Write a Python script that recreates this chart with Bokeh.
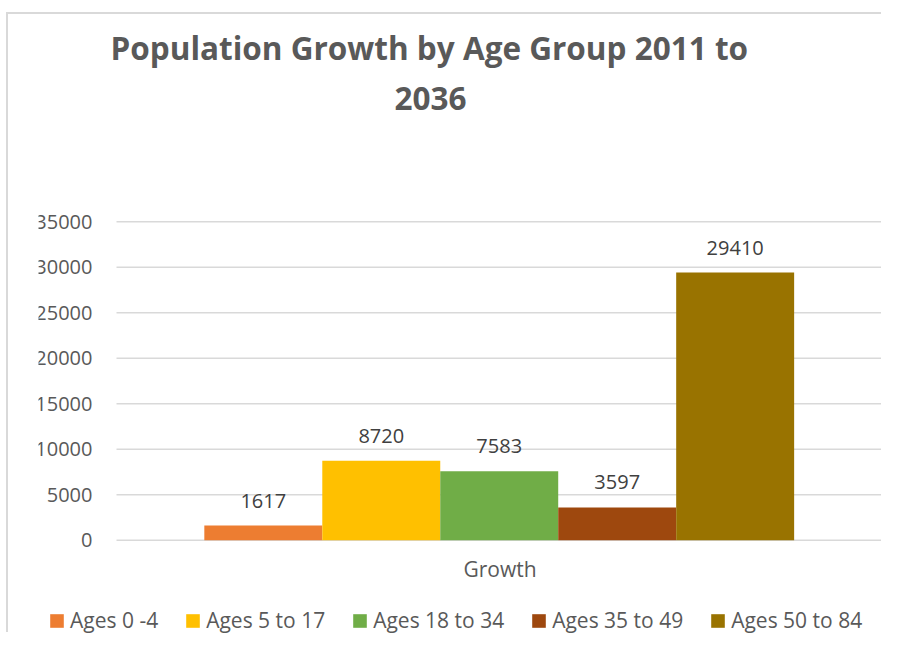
from bokeh.plotting import figure
from bokeh.models import (ColumnDataSource, Range1d, FixedTicker,
                          Legend, LegendItem, Title)
from bokeh.core.properties import value
from bokeh.embed import file_html
from bokeh.resources import INLINE

# ---- data ----
title_lines = ["Population Growth by Age Group 2011 to", "2036"]
category = ["Growth"]
groups = ["Ages 0 -4", "Ages 5 to 17", "Ages 18 to 34", "Ages 35 to 49", "Ages 50 to 84"]
growth = [1617, 8720, 7583, 3597, 29410]
colors = ["#ED7D31", "#FFC000", "#70AD47", "#9E480E", "#997300"]
y_ticks = [0, 5000, 10000, 15000, 20000, 25000, 30000, 35000]

FONT = "Open Sans"
GRAY = "#595959"

# ---- layout (canvas pixels) ----
W, H = 875, 620
frame_left, frame_right = 30, 875      # plot frame (also hosts legend)
frame_top, frame_bottom = 98, 620
cat_left_px = 108                       # where the category band starts
zero_px, grid_top_px = 525, 204         # pixel rows of 0 and of the top tick

n_cat = len(category)
px_per_x = (frame_right - cat_left_px) / n_cat
x_lo = -(cat_left_px - frame_left) / px_per_x
px_per_y = (zero_px - grid_top_px) / y_ticks[-1]
y_hi = (zero_px - frame_top) / px_per_y
y_lo = -(frame_bottom - zero_px) / px_per_y

p = figure(width=W, height=H, title=None,
           x_range=Range1d(x_lo, n_cat), y_range=Range1d(y_lo, y_hi),
           output_backend="svg", toolbar_location=None,
           min_border_left=frame_left, min_border_right=W - frame_right,
           min_border_top=frame_top, min_border_bottom=H - frame_bottom)
p.outline_line_color = None
p.background_fill_color = "white"
p.border_fill_color = "white"
p.styles = {"margin-left": "6px", "margin-top": "12px",
            "border-left": "2px solid #d9d9d9", "border-top": "2px solid #d9d9d9"}

# horizontal gridlines across the category band
p.xgrid.visible = False
p.ygrid.visible = False
grid_src = ColumnDataSource(dict(x0=[0] * len(y_ticks), x1=[n_cat] * len(y_ticks),
                                 y=y_ticks))
p.segment(x0="x0", x1="x1", y0="y", y1="y", source=grid_src,
          line_color="#d9d9d9", line_width=1.5)

# bars + data labels
bar_w = 0.1538
n = len(groups)
items = []
for j, (g, v, c) in enumerate(zip(groups, growth, colors)):
    xs = [k + 0.5 + (j - (n - 1) / 2) * bar_w - 0.001 for k in range(n_cat)]
    src = ColumnDataSource(dict(x=xs, top=[v], lab=[str(v)]))
    r = p.vbar(x="x", top="top", width=bar_w, fill_color=c, line_color=None,
               source=src)
    p.text(x="x", y="top", text="lab", source=src,
           text_align="center", text_baseline="middle", y_offset=-25,
           text_font=value(FONT), text_font_size="20px", text_color="#404040")
    items.append(LegendItem(label=g, renderers=[r]))

# axes pinned to the category band / zero line
p.yaxis.fixed_location = 0
p.yaxis.ticker = FixedTicker(ticks=y_ticks, minor_ticks=[])
p.yaxis.axis_line_color = None
p.yaxis.major_tick_line_color = None
p.yaxis.minor_tick_line_color = None
p.yaxis.major_tick_out = 0
p.yaxis.major_label_standoff = 24
p.yaxis.major_label_text_font = FONT
p.yaxis.major_label_text_font_size = "20px"
p.yaxis.major_label_text_color = GRAY

cat_ticks = [k + 0.5 for k in range(n_cat)]
p.xaxis.fixed_location = 0
p.xaxis.ticker = FixedTicker(ticks=cat_ticks, minor_ticks=[])
p.xaxis.major_label_overrides = {t: c for t, c in zip(cat_ticks, category)}
p.xaxis.axis_line_color = None
p.xaxis.major_tick_line_color = None
p.xaxis.minor_tick_line_color = None
p.xaxis.major_tick_out = 0
p.xaxis.major_label_standoff = 15
p.xaxis.major_label_text_font = FONT
p.xaxis.major_label_text_font_size = "21px"
p.xaxis.major_label_text_color = GRAY

# title (two lines; the one added first sits nearest the plot)
t2 = Title(text=title_lines[1], align="left", offset=278 + (cat_left_px - frame_left),
           standoff=14, text_font=FONT, text_font_size="31.5px",
           text_font_style="bold", text_color=GRAY)
t1 = Title(text=title_lines[0], align="left", offset=-6 + (cat_left_px - frame_left),
           standoff=18, text_font=FONT, text_font_size="31.5px",
           text_font_style="bold", text_color=GRAY)
p.add_layout(t2, "above")
p.add_layout(t1, "above")

# legend inside the (extended) frame, under the axis label
leg = Legend(items=items, orientation="horizontal", location=(10, 0),
             glyph_width=17, glyph_height=17, label_standoff=5, spacing=26,
             padding=2, margin=0, border_line_color=None,
             background_fill_alpha=0, label_text_font=FONT,
             label_text_font_size="21px", label_text_color=GRAY,
             label_height=20)
p.add_layout(leg)

open("out.html", "w").write(file_html(p, INLINE))
